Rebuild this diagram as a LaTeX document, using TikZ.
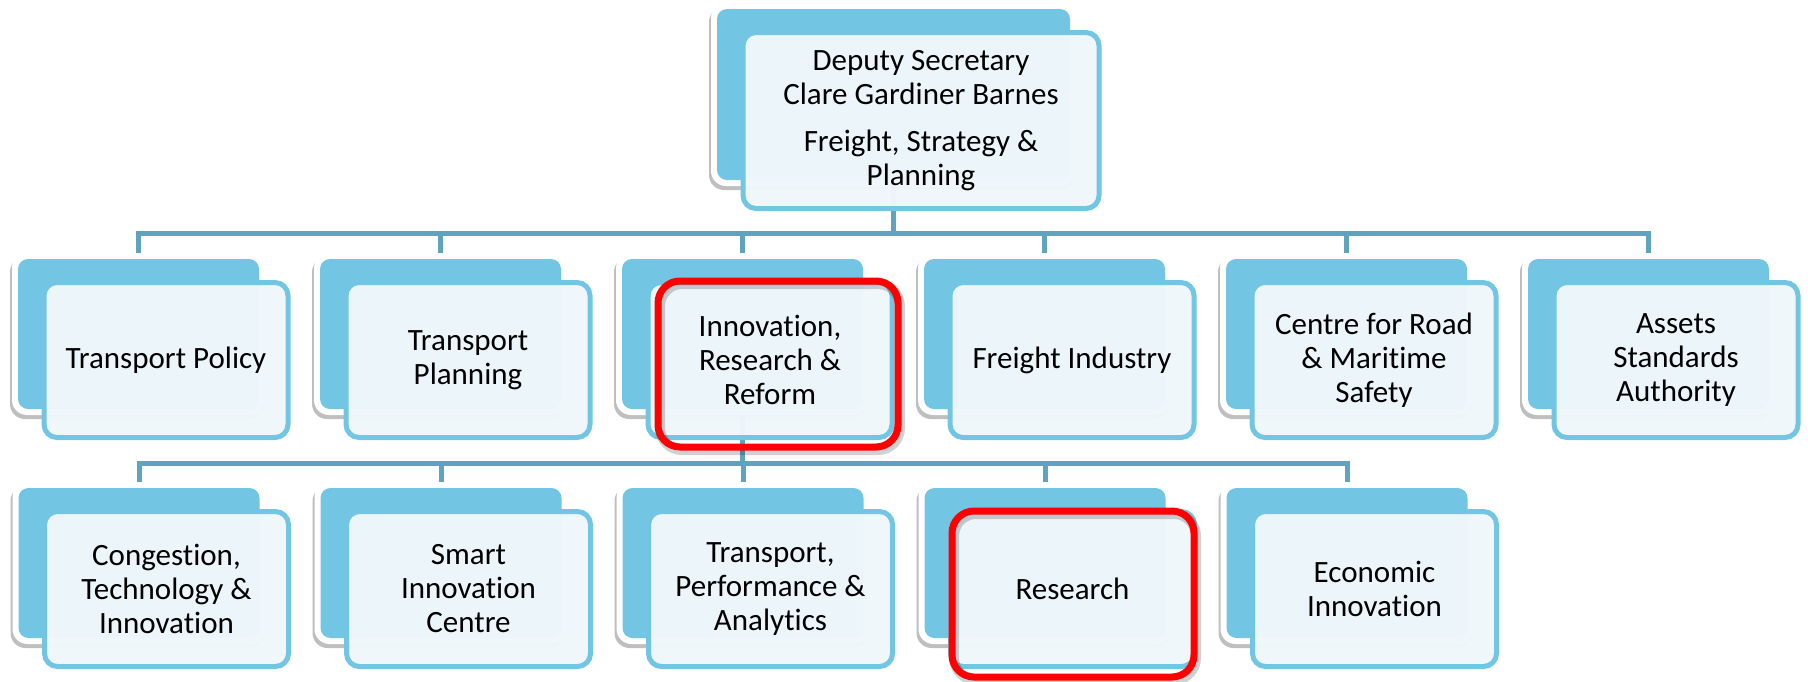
\documentclass[tikz,border=0pt]{standalone}
\usepackage{fontspec}
\setmainfont[Ligatures={NoCommon,NoContextual},RawFeature={-liga;-clig;-calt;-dlig}]{Carlito}
\usetikzlibrary{shadows,calc}
\definecolor{backblue}{RGB}{114,198,228}
\definecolor{frontfill}{RGB}{240,247,251}
\definecolor{connblue}{RGB}{95,163,190}
\definecolor{hired}{RGB}{255,0,0}
\tikzset{
  whitebox/.style={rectangle, rounded corners=15pt, fill=white, inner sep=0pt, outer sep=0pt,
    drop shadow={shadow xshift=-2pt, shadow yshift=-4pt, opacity=0.25, fill=black}},
  backbox/.style={rectangle, rounded corners=10pt, fill=backblue, inner sep=0pt, outer sep=0pt},
  frontbox/.style={rectangle, rounded corners=13pt, draw=backblue, line width=5pt, fill=frontfill,
    fill opacity=0.97, text opacity=1, align=center, inner sep=0pt,
    font=\fontsize{31}{34}\selectfont},
  conn/.style={draw=connblue, line width=5pt},
  hilite/.style={rectangle, draw=hired, line width=7pt, rounded corners=22pt, inner sep=0pt},
  hishadow/.style={rectangle, draw=black, draw opacity=0.18, line width=10pt, rounded corners=22pt, inner sep=0pt},
  slot/.style={rectangle, inner sep=0pt, outer sep=0pt},
}
\newcommand\orgunit[6]{%
  \node[whitebox, minimum width=#4+12, minimum height=#5+12] (#1) at (#2,#3) {};
  \node[backbox, minimum width=#4, minimum height=#5] (#1-b) at (#1.center) {};
  \node[frontbox, minimum width=#4+3, minimum height=#5+5] (#1-f) at ($(#1.center)+(27.5,26)$) {#6};
}
\begin{document}
\begin{tikzpicture}[x=1pt,y=-1pt]
\useasboundingbox (0,0) rectangle (1808,681);
\coordinate (bus1) at (0,233);
\coordinate (bus2) at (0,463);
% slots (outlines of the units, used to route the connectors under the boxes)
\node[slot, minimum width=365, minimum height=183] (top0) at (893.5,94.5) {};
\foreach \i/\n in {0/a,1/b,2/c,3/d,4/e,5/f}{
  \node[slot, minimum width=253, minimum height=162] (r1\n0) at ({138.5+302*\i},334) {};
}
\foreach \i/\n in {0/a,1/b,2/c,3/d,4/e}{
  \node[slot, minimum width=253, minimum height=162] (r2\n0) at ({139+302*\i},563) {};
}
\draw[conn] (top0.south) -- (top0.south |- bus1);
\draw[conn] (r1a0.north) -- (r1a0.north |- bus1) -- (r1f0.north |- bus1) -- (r1f0.north);
\foreach \n in {b,c,d,e}{\draw[conn] (r1\n0.north) -- (r1\n0.north |- bus1);}
\draw[conn] (r1c0.south) -- (r1c0.south |- bus2);
\draw[conn] (r2a0.north) -- (r2a0.north |- bus2) -- (r2e0.north |- bus2) -- (r2e0.north);
\foreach \n in {b,c,d}{\draw[conn] (r2\n0.north) -- (r2\n0.north |- bus2);}
% units
\orgunit{top}{893.5}{94.5}{353}{171}{Deputy Secretary\\Clare Gardiner Barnes\\[13pt]Freight, Strategy \&\\Planning}
\orgunit{r1a}{138.5}{334}{241}{150}{Transport Policy}
\orgunit{r1b}{440.5}{334}{241}{150}{Transport\\Planning}
\orgunit{r1c}{742.5}{334}{241}{150}{Innovation,\\Research \&\\Reform}
\orgunit{r1d}{1044.5}{334}{241}{150}{Freight Industry}
\orgunit{r1e}{1346.5}{334}{241}{150}{Centre for Road\\\& Maritime\\Safety}
\orgunit{r1f}{1648.5}{334}{241}{150}{Assets\\Standards\\Authority}
\orgunit{r2a}{139}{563}{241}{150}{Congestion,\\Technology \&\\Innovation}
\orgunit{r2b}{441}{563}{241}{150}{Smart\\Innovation\\Centre}
\orgunit{r2c}{743}{563}{241}{150}{Transport,\\Performance \&\\Analytics}
\orgunit{r2d}{1045}{563}{241}{150}{Research}
\orgunit{r2e}{1347}{563}{241}{150}{Economic\\Innovation}
% highlights
\node[hishadow, minimum width=240, minimum height=166] (hs1) at (780,367) {};
\node[hilite, minimum width=240, minimum height=166] (hl1) at (778,364) {};
\node[hishadow, minimum width=242, minimum height=166] (hs2) at (1075,597) {};
\node[hilite, minimum width=242, minimum height=166] (hl2) at (1073,594) {};
\end{tikzpicture}
\end{document}
